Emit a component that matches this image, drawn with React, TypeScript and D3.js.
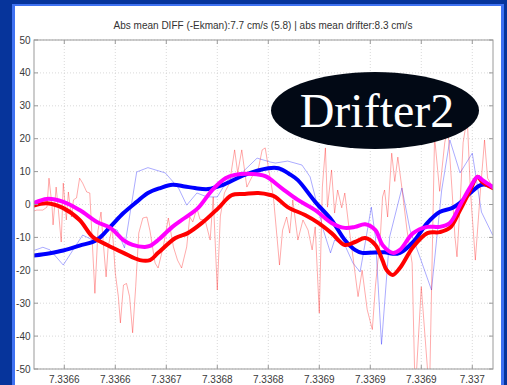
import React from "react";
import * as d3 from "d3";

// Longitude axis: x values are offsets from 7.3366 in micro-degrees
const LON0 = 7.3366;
const xTickOffsets = [0, 50, 100, 150, 200, 250, 300, 350, 400];
const xTickLabels = ["7.3366", "7.3366", "7.3367", "7.3368", "7.3368", "7.3369", "7.3369", "7.3369", "7.337"];
const yTicks = [50, 40, 30, 20, 10, 0, -10, -20, -30, -40, -50];

const title = "Abs mean DIFF (-Ekman):7.7 cm/s (5.8) | abs mean drifter:8.3 cm/s";
const badge = "Drifter2";

// Raw drifter velocity (cm/s)
const drifterRaw: [number, number][] = [
  [-30, -14], [-21, -13], [-14, -13.8], [-1, -18.4], [18, -9.3], [28, -10.8], [45, -7.1], [52, -7.8],
  [59, -13.2], [71, 9.9], [82, 11.2], [99, 9.6], [112, 5], [120, -0.2], [130, 3.5], [140, 2.3],
  [150, 2.3], [160, 7.4], [174, 9.6], [189, 14.1], [202, 12.9], [207, 12.6], [219, 13.2], [233, 12],
  [241, 8.4], [246, 2.3], [254, -7.8], [261, -14.7], [265, -10.8], [275, -12.3], [283, -17.8],
  [290, -20.5], [295, -11.7], [301, -0.8], [305, -9.8], [311, -42.5], [319, -9.8], [331, 5],
  [339, -7.8], [349, -16.3], [360, -26], [370, 4.4], [378, 19.6], [388, 9.6], [400, 15.6],
  [409, -2.3], [420, -9.3],
];

// Raw difference series (drifter minus Ekman)
const diffRaw: [number, number][] = [
  [-30, -2], [-27, -1.7], [-21, -1.7], [-17, -0.8], [-15, 8], [-12, -0.5], [-11, -6.2], [-8, 5.3],
  [-6, -1], [-3, -11.4], [-1, 6.5], [2, -4.7], [4, 3.8], [7, -3.8], [9, 1.4], [12, 2], [15, 8],
  [18, 6.5], [22, 3.8], [25, 3.5], [27, -8.7], [30, -27], [33, -8], [36, -2.3], [38, -10.8],
  [41, -22], [43, -12.9], [47, -6.8], [50, -20.8], [53, -28], [55, -36], [58, -24.5], [61, -24],
  [64, -28], [67, -39], [70, -25], [73, -8.7], [77, -4.1], [81, -3.8], [84, -8], [89, -17.8],
  [92, -19.3], [97, -12.9], [102, -4.1], [107, -12.9], [111, -16.9], [115, -19.3], [120, -12.9],
  [123, -3.8], [126, -5.3], [130, -1.1], [133, -4.5], [138, -4.7], [143, -10.8], [146, 2.3],
  [150, -26], [153, -3.5], [157, 3.5], [162, 6.5], [167, 16.6], [170, 9.6], [174, 16.6], [179, 5.3],
  [184, 8.4], [190, 10.5], [194, 16.6], [197, 17.2], [200, 11.4], [205, 2.3], [211, -18.4],
  [214, -7.8], [218, -3.8], [221, -8.7], [224, 1.4], [229, -10.8], [234, -4.7], [239, -7.8],
  [243, -13.8], [246, -6.8], [250, -33], [253, 5.3], [256, 17.2], [258, -0.8], [262, 10.5],
  [265, -2.6], [268, 4.4], [272, -1], [275, 3.5], [279, -6.8], [283, -15.9], [288, -28], [292, -20],
  [297, -32], [302, -38], [305, -25], [310, -9], [312, 2.3], [314, 4.4], [317, -3.8], [321, 15.6],
  [324, 7], [327, 14.4], [331, 5], [336, -7.8], [341, -17.8], [344, -58], [350, -25], [358, -58],
  [363, 20.6], [368, 4], [373, 18.8], [376, 23.6], [380, 5], [383, -9.8], [385, -15.9], [388, 0],
  [391, 18.8], [395, 26.6], [398, 5], [403, -16.9], [408, 4.4], [412, 19.6], [415, 8], [420, 5.3],
];

// Smoothed drifter velocity
const drifterSmooth: [number, number][] = [
  [-30, -15.5], [-14, -14.8], [-1, -14], [15, -12.5], [32, -10.8], [45, -6.8], [58, -2.6], [71, 0.8],
  [82, 3.5], [94, 5], [106, 6], [118, 5.5], [128, 5], [141, 4.7], [155, 5.9], [177, 9], [200, 11],
  [210, 11], [221, 9.2], [229, 7.4], [246, 0.8], [262, -4.7], [275, -10.8], [285, -13.8],
  [292, -14.7], [314, -14.5], [322, -15], [329, -14.7], [342, -11.4], [356, -5.6], [368, -2.3],
  [380, -1.1], [388, 0.5], [398, 3.5], [408, 5.9], [414, 6], [420, 5.3],
];

// Smoothed difference
const diffSmooth: [number, number][] = [
  [-30, -0.3], [-17, 0.4], [-1, -1.1], [15, -4.7], [28, -9.9], [42, -12.3], [58, -14.7], [74, -16.9],
  [84, -16.9], [92, -14.7], [109, -10.2], [121, -8.7], [135, -5.6], [151, -1.1], [164, 2.8],
  [177, 3.2], [190, 3.5], [202, 2.9], [207, 2.3], [219, -0.8], [236, -3.2], [249, -5.6], [262, -8.7],
  [275, -12.3], [285, -11.4], [295, -10.2], [305, -12.3], [312, -17], [316, -19.9], [322, -21.4],
  [329, -19.3], [342, -12.9], [356, -8.7], [368, -8.4], [378, -7.1], [388, -1.7], [398, 4.4],
  [405, 8.4], [410, 6.8], [420, 5],
];

// Smoothed drifter minus Ekman estimate
const residualSmooth: [number, number][] = [
  [-30, 0.4], [-17, 1.7], [-1, 0.8], [15, -1.7], [32, -5.3], [45, -7.1], [58, -10.8], [67, -12.3],
  [79, -12.9], [84, -12.6], [92, -10.8], [106, -6.8], [118, -4.1], [131, -1.1], [145, 4.4],
  [158, 8], [167, 9], [184, 9.3], [197, 8.6], [213, 5], [229, 1.4], [246, -1.7], [262, -5.6],
  [275, -7.1], [285, -6.8], [295, -6], [305, -7.8], [312, -12.3], [322, -14.7], [329, -13.8],
  [342, -8.7], [356, -6.8], [368, -6.8], [378, -5.6], [388, -0.2], [398, 5.3], [405, 8.4],
  [410, 7.4], [420, 5.3],
];

const W = 507;
const H = 385;
const plot = { left: 34, top: 40, right: 493, bottom: 369 };

export default function App() {
  const x = d3
    .scaleLinear()
    .domain([-29.7, 420.3])
    .range([plot.left, plot.right]);
  const y = d3.scaleLinear().domain([-50, 50]).range([plot.bottom, plot.top]);

  const linear = d3
    .line<[number, number]>()
    .x((d) => x(d[0]))
    .y((d) => y(d[1]));
  const smooth = d3
    .line<[number, number]>()
    .x((d) => x(d[0]))
    .y((d) => y(d[1]))
    .curve(d3.curveCatmullRom.alpha(0.5));

  const font = "'Liberation Sans', Arial, Helvetica, sans-serif";
  const tickLen = 4;

  return (
    <svg
      width={W}
      height={H}
      style={{ position: "absolute", left: 0, top: 0, display: "block" }}
    >
      <defs>
        <clipPath id="plotClip">
          <rect
            x={plot.left}
            y={plot.top}
            width={plot.right - plot.left}
            height={plot.bottom - plot.top}
          />
        </clipPath>
      </defs>
      {/* slide background and white panel */}
      <rect x={0} y={0} width={W} height={H} fill="#06349b" />
      <rect x={12} y={4} width={492} height={H - 4} fill="#3f72f2" />
      <rect x={15} y={6} width={486} height={H - 6} fill="#ffffff" />

      {/* title */}
      <text
        x={263}
        y={28.5}
        textAnchor="middle"
        fontFamily={font}
        fontSize={10}
        fill="#333"
      >
        {title}
      </text>

      {/* grid */}
      <g stroke="#cfcfcf" strokeWidth={0.8} strokeDasharray="1,2">
        {xTickOffsets.map((t) => (
          <line key={"gx" + t} x1={x(t)} x2={x(t)} y1={plot.top} y2={plot.bottom} />
        ))}
        {yTicks.map((t) => (
          <line key={"gy" + t} x1={plot.left} x2={plot.right} y1={y(t)} y2={y(t)} />
        ))}
      </g>

      {/* data */}
      <g clipPath="url(#plotClip)" fill="none" strokeLinejoin="round" strokeLinecap="round">
        <path d={linear(drifterRaw) ?? ""} stroke="#0000ff" strokeOpacity={0.33} strokeWidth={1} />
        <path d={linear(diffRaw) ?? ""} stroke="#ff0000" strokeOpacity={0.33} strokeWidth={1} />
        <path d={smooth(drifterSmooth) ?? ""} stroke="#0000ff" strokeWidth={4} />
        <path d={smooth(diffSmooth) ?? ""} stroke="#ff0000" strokeWidth={4} />
        <path d={smooth(residualSmooth) ?? ""} stroke="#ff00ff" strokeWidth={4} />
      </g>

      {/* axes box and ticks */}
      <rect
        x={plot.left}
        y={plot.top}
        width={plot.right - plot.left}
        height={plot.bottom - plot.top}
        fill="none"
        stroke="#9a9a9a"
        strokeWidth={1}
      />
      <g stroke="#9a9a9a" strokeWidth={1}>
        {xTickOffsets.map((t) => (
          <g key={"tx" + t}>
            <line x1={x(t)} x2={x(t)} y1={plot.bottom} y2={plot.bottom - tickLen} />
            <line x1={x(t)} x2={x(t)} y1={plot.top} y2={plot.top + tickLen} />
          </g>
        ))}
        {yTicks.map((t) => (
          <g key={"ty" + t}>
            <line x1={plot.left} x2={plot.left + tickLen} y1={y(t)} y2={y(t)} />
            <line x1={plot.right} x2={plot.right - tickLen} y1={y(t)} y2={y(t)} />
          </g>
        ))}
      </g>
      <g fontFamily={font} fontSize={10} fill="#3a3a3a">
        {xTickOffsets.map((t, i) => (
          <text key={"lx" + t} x={x(t)} y={383} textAnchor="middle">
            {xTickLabels[i]}
          </text>
        ))}
        {yTicks.map((t) => (
          <text key={"ly" + t} x={30.5} y={y(t)} dy="0.35em" textAnchor="end">
            {t}
          </text>
        ))}
      </g>

      {/* label badge */}
      <ellipse cx={375} cy={110.5} rx={104} ry={38.5} fill="#020915" />
      <text
        x={377}
        y={127}
        textAnchor="middle"
        fontFamily="'Liberation Serif', 'Times New Roman', serif"
        fontSize={48}
        fill="#ffffff"
      >
        {badge}
      </text>
    </svg>
  );
}
